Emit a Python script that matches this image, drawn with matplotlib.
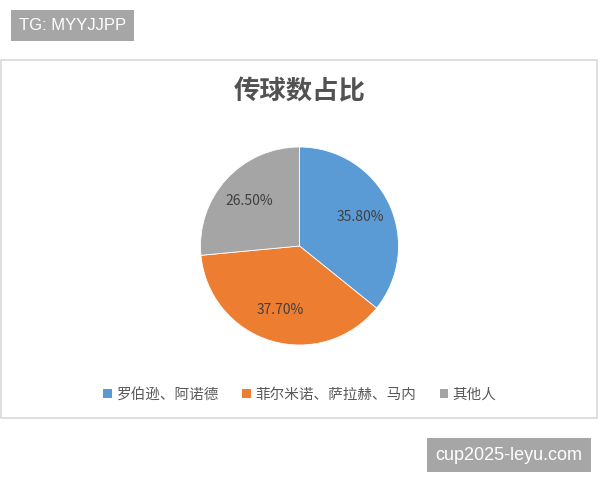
import matplotlib.pyplot as plt
from matplotlib.patches import Rectangle

plt.rcParams['font.family'] = ['Noto Sans CJK SC', 'DejaVu Sans']

# data
labels = ['罗伯逊、阿诺德', '菲尔米诺、萨拉赫、马内', '其他人']
shares = [35.8, 37.7, 26.5]
colors = ['#5B9BD5', '#ED7D31', '#A5A5A5']
title = '传球数占比'

W, H = 600, 480
fig = plt.figure(figsize=(W / 100, H / 100), dpi=100)

# chart area border
fig.patches.append(Rectangle((1 / W, 1 - 418 / H), 596 / W, 358 / H,
                             transform=fig.transFigure, facecolor='white',
                             edgecolor='#D9D9D9', linewidth=1.2, zorder=-1))

# pie: center ~ (299.5, 246) px, radius ~99 px
ax = fig.add_axes([(299.5 - 99) / W, 1 - (246 + 99) / H, 198 / W, 198 / H])
ax.set_zorder(2)
ax.patch.set_visible(False)
wedges, texts, autotexts = ax.pie(shares, colors=colors, startangle=90, counterclock=False,
                                  autopct='%.2f%%', pctdistance=0.68,
                                  wedgeprops=dict(edgecolor='white', linewidth=0.6),
                                  textprops=dict(fontsize=10, color='#404040'))
ax.set_xlim(-1, 1)
ax.set_ylim(-1, 1)
ax.set_aspect('equal')

fig.text(0.5, 1 - 92 / H, title, ha='center', va='center', fontsize=19,
         fontweight='bold', color='#525252')

handles = [Rectangle((0, 0), 1, 1, facecolor=c) for c in colors]
fig.legend(handles, labels, loc='center', bbox_to_anchor=(0.5, 1 - 395 / H), ncol=3,
           frameon=False, fontsize=10.5, labelcolor='#595959', handlelength=0.6,
           handleheight=0.6, handletextpad=0.3, columnspacing=1.6)

# watermarks
fig.text(72.5 / W, 1 - 25.5 / H, 'TG: MYYJJPP', ha='center', va='center', fontsize=12,
         color='white', family='Liberation Sans',
         bbox=dict(boxstyle='square,pad=0.5', facecolor='#A6A6A6', edgecolor='none'))
fig.text(509 / W, 1 - 455 / H, 'cup2025-leyu.com', ha='center', va='center', fontsize=13,
         color='white', family='Liberation Sans',
         bbox=dict(boxstyle='square,pad=0.45', facecolor='#A6A6A6', edgecolor='none'))

fig.savefig('out.png', dpi=100, facecolor='white')
